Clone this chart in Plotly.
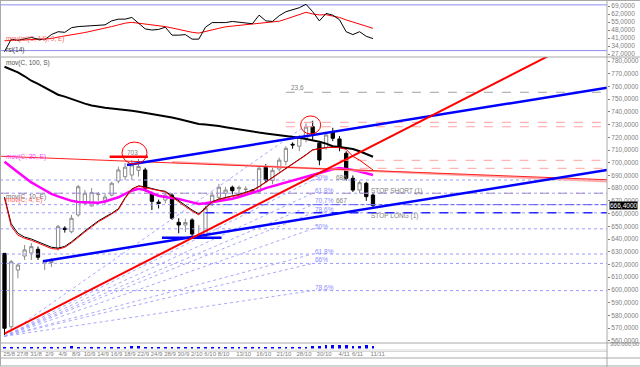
import plotly.graph_objects as go

# ---------------- data ----------------
idx = list(range(56))
date_labels = ["25/8", "27/8", "31/8", "2/9", "4/9", "8/9", "10/9", "14/9", "16/9", "18/9",
               "22/9", "24/9", "28/9", "30/9", "2/10", "6/10", "8/10", "13/10", "16/10",
               "21/10", "28/10", "30/10", "4/11", "6/11", "11/11"]
date_label_idx = [0, 2, 4, 6, 8, 10, 12, 14, 16, 18, 20, 22, 24, 26, 28, 30, 32, 35, 38,
                  41, 44, 47, 50, 52, 55]

opens = [628.7, 571.0, 615.6, 626.6, 629.0, 631.9, 620.9, 621.5, 632.7, 648.5,
         645.7, 658.9, 668.1, 666.0, 675.0, 670.5, 674.5, 685.6, 689.0, 690.3,
         694.0, 694.3, 675.3, 669.0, 670.6, 674.5, 653.1, 651.0, 655.0, 643.0,
         642.0, 669.5, 672.8, 676.0, 680.7, 679.5, 679.0, 678.5, 677.0, 697.0,
         686.0, 695.0, 701.0, 714.5, 713.0, 719.0, 728.3, 715.3, 712.0, 724.4,
         718.7, 707.4, 687.7, 678.5, 683.8, 674.6]
highs = [629.0, 623.5, 620.9, 635.3, 636.9, 634.0, 623.5, 625.0, 651.0, 650.0,
         658.9, 682.5, 678.5, 680.0, 677.0, 676.0, 685.0, 696.9, 699.8, 702.0,
         703.0, 696.0, 677.2, 671.0, 677.2, 676.0, 656.3, 656.0, 656.3, 651.0,
         666.0, 676.9, 683.3, 681.0, 682.0, 682.0, 681.5, 679.0, 697.0, 699.0,
         696.0, 704.0, 713.0, 716.0, 722.0, 731.0, 733.0, 717.0, 723.0, 727.5,
         721.0, 709.0, 690.0, 686.0, 685.0, 676.0]
lows = [564.5, 569.0, 609.1, 623.5, 623.5, 623.5, 615.6, 618.0, 631.0, 645.0,
        644.5, 657.5, 666.7, 665.5, 670.0, 667.0, 673.5, 683.8, 686.4, 686.4,
        689.0, 677.2, 662.8, 664.0, 668.0, 655.0, 644.5, 645.5, 641.8, 640.5,
        641.0, 666.0, 671.2, 672.0, 675.0, 674.5, 676.0, 677.5, 676.0, 684.0,
        683.0, 693.0, 698.0, 711.0, 709.0, 716.0, 718.0, 698.0, 710.0, 717.0,
        709.0, 686.0, 677.0, 676.0, 670.0, 665.0]
closes = [569.8, 622.1, 619.5, 631.4, 634.0, 625.6, 623.0, 623.2, 649.7, 647.5,
          656.3, 681.1, 676.0, 676.5, 675.3, 673.0, 683.8, 694.3, 696.5, 698.2,
          697.0, 680.0, 669.6, 668.0, 674.5, 656.3, 651.0, 653.0, 643.9, 643.5,
          664.2, 674.5, 680.7, 678.5, 678.0, 680.5, 679.2, 678.0, 695.6, 686.4,
          694.0, 702.0, 711.3, 714.0, 720.5, 728.0, 722.6, 702.1, 721.8, 719.2,
          712.1, 687.7, 678.5, 684.3, 673.3, 666.4]

sma100 = [775.5, 773.5, 771.0, 768.0, 764.5, 762.0, 759.0, 756.0, 753.5, 752.0,
          750.0, 748.0, 746.5, 745.0, 744.0, 743.3, 742.7, 742.2, 741.5, 740.8,
          740.1, 739.3, 738.3, 737.5, 736.5, 735.5, 734.4, 733.2, 731.8, 730.5,
          730.1, 729.7, 728.8, 727.9, 727.0, 726.0, 725.0, 724.3, 723.7, 723.0,
          722.4, 721.8, 721.1, 720.4, 719.7, 718.6, 717.6, 716.5, 715.0, 713.0,
          712.3, 711.6, 710.8, 709.0, 707.0, 704.7]
ema30 = [700.8, 697.0, 692.5, 688.5, 684.5, 681.5, 678.5, 675.5, 673.5, 671.5,
         670.0, 669.2, 668.8, 668.5, 668.5, 669.5, 671.0, 672.8, 675.5, 678.0,
         679.5, 678.5, 676.0, 674.0, 673.0, 672.3, 671.5, 670.2, 668.8, 667.5,
         668.2, 669.0, 669.8, 670.6, 671.7, 673.0, 674.5, 676.0, 678.0, 680.0,
         681.5, 683.0, 684.5, 686.0, 687.3, 689.0, 690.5, 692.0, 693.5, 694.8,
         695.8, 695.2, 694.3, 693.0, 691.7, 690.3]
ema4 = [672.2, 650.0, 643.0, 640.5, 639.0, 637.0, 635.0, 632.5, 632.0, 633.5,
        637.0, 641.5, 645.5, 649.5, 653.5, 656.5, 659.5, 663.0, 672.0, 679.0,
        681.5, 680.5, 679.0, 678.0, 677.0, 673.0, 669.0, 665.5, 662.0, 659.0,
        664.0, 669.0, 671.0, 672.5, 673.5, 674.5, 676.0, 678.0, 681.0, 684.5,
        688.0, 691.5, 695.0, 698.5, 702.0, 706.0, 710.0, 711.0, 711.8, 712.1,
        711.8, 710.5, 705.0, 702.0, 698.0, 694.3]
ema10 = [673.0, 652.0, 644.5, 641.5, 640.0, 638.0, 636.0, 633.5, 632.8, 634.2,
         637.8, 642.3, 646.3, 650.3, 654.2, 657.3, 660.2, 663.8, 672.5, 679.3,
         681.8, 681.0, 679.6, 678.4, 677.5, 673.8, 669.8, 666.3, 662.8, 659.8,
         664.5, 669.3, 671.4, 672.9, 673.9, 675.0, 676.5, 678.5, 681.3, 684.8,
         688.3, 691.8, 695.3, 698.8, 702.3, 706.3, 710.2, 711.3, 712.0, 712.3,
         712.0, 711.0]

rsi = [29.0, 40.0, 39.0, 40.0, 41.5, 40.0, 39.5, 44.0, 46.5, 46.0,
       50.0, 51.0, 51.5, 52.0, 52.0, 52.5, 56.0, 57.5, 57.5, 59.0,
       54.0, 49.0, 48.0, 48.5, 50.5, 43.5, 43.5, 44.0, 40.0, 40.0,
       50.5, 54.5, 54.5, 54.5, 55.5, 55.0, 54.0, 53.5, 61.0, 56.0,
       55.5, 60.5, 64.0, 65.5, 67.5, 70.5, 64.0, 56.0, 62.5, 61.0,
       57.0, 46.5, 44.0, 46.5, 42.5, 40.5]
rsi_avg = [38.6, 38.8, 39.0, 39.2, 39.4, 39.6, 39.8, 40.5, 41.8, 43.0,
           44.0, 44.8, 45.8, 47.0, 48.3, 49.4, 51.0, 52.5, 54.0, 54.7,
           54.0, 53.3, 52.6, 51.8, 51.0, 49.8, 48.5, 47.3, 46.0, 45.3,
           46.5, 48.0, 49.5, 50.8, 51.4, 52.0, 52.4, 53.0, 53.8, 54.5,
           55.0, 55.7, 57.5, 59.5, 61.5, 63.5, 62.0, 61.2, 61.4, 60.5,
           59.0, 56.8, 55.0, 53.0, 51.0, 49.5]
rsi_levels = [70, 30]
rsi_ticks = [69, 62, 55, 48, 41, 34, 27]

volume = [120000, 90000, 100000, 95000, 90000, 85000, 95000, 80000, 100000, 90000,
          160000, 90000, 95000, 100000, 90000, 100000, 95000, 110000, 120000, 130000,
          160000, 120000, 100000, 95000, 110000, 100000, 95000, 90000, 100000, 95000,
          110000, 100000, 95000, 90000, 100000, 95000, 90000, 100000, 110000, 95000,
          100000, 110000, 95000, 100000, 110000, 120000, 140000, 170000, 200000, 210000,
          190000, 180000, 160000, 170000, 200000, 150000]

price_ticks = list(range(560, 790, 10))

# drawn objects (bar index, price)
upper_channel = [(18.28, 698.2), (89.93, 759.0)]
lower_channel = [(5.75, 622.5), (89.93, 694.3)]
support_703 = [(23.5, 641.0), (32.4, 641.0)]
red_trend = [(0.0, 565.5), (81.0, 783.5)]
resistance = [(-0.67, 705.1), (89.93, 686.6)]
resistance_pink = [(25.0, 700.5), (89.93, 685.2)]
level_703 = [(15.7, 704.7), (21.4, 704.7)]
fan_origin = (0.0, 563.5)
fan_end_idx = 46
fan_targets = [733.0, 686.4, 676.0, 667.0, 660.6, 648.0, 628.2, 620.8, 599.4]
fib_levels = [686.4, 676.0, 667.0, 660.6, 648.0, 628.2, 620.8, 599.4]
stop_short = 676.0
stop_long = 660.6
level_667 = 667.0
salmon_levels = [(42, 731.8), (42, 728.3), (50, 701.9), (53, 695.6)]
ext_level = (42, 755.4)
circles = [(19.4, 707.6, 1.87, 8.65), (45.7, 729.7, 1.5, 7.1)]
last_price = 666.4

fib_texts = [("50%", 688.5), ("61,8%", 678.5), ("70,7%", 669.9), ("78,6%", 663.4),
             ("50%", 650.2), ("61,8%", 630.0), ("66%", 623.5), ("78,6%", 602.0)]
value_texts = [("686", 688.5), ("667", 669.9)]

# ---------------- layout geometry ----------------
W, H = 640, 367
R = 33
XR = [-0.672, 89.93]


def pf(px):
    return 1 - px / H


FONT = "Liberation Sans"
GREY = "#808080"

fig = go.Figure()

# RSI panel
for lv in rsi_levels:
    fig.add_trace(go.Scatter(x=XR, y=[lv, lv], mode="lines", yaxis="y",
                             line=dict(color="#8c8cf0", width=1), hoverinfo="skip"))
fig.add_trace(go.Scatter(x=idx, y=rsi_avg, mode="lines", yaxis="y",
                         line=dict(color="#ff0000", width=1), hoverinfo="skip"))
fig.add_trace(go.Scatter(x=idx, y=rsi, mode="lines", yaxis="y",
                         line=dict(color="#000000", width=1), hoverinfo="skip"))

# main panel: horizontal fib levels
for lv in fib_levels:
    fig.add_trace(go.Scatter(x=XR, y=[lv, lv], mode="lines", yaxis="y2",
                             line=dict(color="#9a9aff", width=1, dash="dot"), hoverinfo="skip"))
fig.add_trace(go.Scatter(x=XR, y=[stop_short, stop_short], mode="lines", yaxis="y2",
                         line=dict(color="#a890c8", width=1, dash="dash"), hoverinfo="skip"))
fig.add_trace(go.Scatter(x=[30, XR[1]], y=[level_667, level_667], mode="lines", yaxis="y2",
                         line=dict(color="#5a5aff", width=1, dash="dashdot"), hoverinfo="skip"))
fig.add_trace(go.Scatter(x=[30, XR[1]], y=[stop_long, stop_long], mode="lines", yaxis="y2",
                         line=dict(color="#2a2aff", width=1.6, dash="dash"), hoverinfo="skip"))

# fan lines
for t in fan_targets:
    fig.add_trace(go.Scatter(x=[fan_origin[0], fan_end_idx], y=[fan_origin[1], t], mode="lines",
                             yaxis="y2", line=dict(color="#a8a8ff", width=1, dash="dot"),
                             hoverinfo="skip"))

# salmon dashed levels and extension
for s, lv in salmon_levels:
    fig.add_trace(go.Scatter(x=[s, XR[1]], y=[lv, lv], mode="lines", yaxis="y2",
                             line=dict(color="#ffa0a0", width=1, dash="dash"), hoverinfo="skip"))
fig.add_trace(go.Scatter(x=[ext_level[0], XR[1]], y=[ext_level[1], ext_level[1]], mode="lines",
                         yaxis="y2", line=dict(color="#a0a0a0", width=1, dash="dash"),
                         hoverinfo="skip"))

# moving averages
fig.add_trace(go.Scatter(x=idx, y=sma100, mode="lines", yaxis="y2",
                         line=dict(color="#000000", width=2), hoverinfo="skip"))
fig.add_trace(go.Scatter(x=idx, y=ema30, mode="lines", yaxis="y2",
                         line=dict(color="#ff00ff", width=2.5), hoverinfo="skip"))

# resistance lines
fig.add_trace(go.Scatter(x=[p[0] for p in resistance_pink], y=[p[1] for p in resistance_pink],
                         mode="lines", yaxis="y2", line=dict(color="#ffaaaa", width=2),
                         hoverinfo="skip"))
fig.add_trace(go.Scatter(x=[p[0] for p in resistance], y=[p[1] for p in resistance],
                         mode="lines", yaxis="y2", line=dict(color="#ff2020", width=1),
                         hoverinfo="skip"))
fig.add_trace(go.Scatter(x=[p[0] for p in level_703], y=[p[1] for p in level_703],
                         mode="lines", yaxis="y2", line=dict(color="#ff0000", width=2.5),
                         hoverinfo="skip"))

# candles
fig.add_trace(go.Candlestick(x=idx, open=opens, high=highs, low=lows, close=closes,
                             xaxis="x", yaxis="y2", whiskerwidth=0,
                             increasing=dict(line=dict(color="#8a8a8a", width=1), fillcolor="#ffffff"),
                             decreasing=dict(line=dict(color="#000000", width=1), fillcolor="#000000"),
                             hoverinfo="skip", showlegend=False))

fig.add_trace(go.Scatter(x=idx[:len(ema10)], y=ema10, mode="lines", yaxis="y2",
                         line=dict(color="#000000", width=1), hoverinfo="skip"))
fig.add_trace(go.Scatter(x=idx, y=ema4, mode="lines", yaxis="y2",
                         line=dict(color="#ff0000", width=1), hoverinfo="skip"))

# trend lines
for seg, col, w in [(upper_channel, "#0000ff", 2.5), (lower_channel, "#0000ff", 2.5),
                    (support_703, "#0000ff", 2.5), (red_trend, "#ff0000", 2)]:
    fig.add_trace(go.Scatter(x=[p[0] for p in seg], y=[p[1] for p in seg], mode="lines",
                             yaxis="y2", line=dict(color=col, width=w), hoverinfo="skip"))

# volume
fig.add_trace(go.Bar(x=idx, y=volume, yaxis="y3", marker=dict(color="#0000ff", line=dict(width=0)),
                     width=0.4, hoverinfo="skip"))

shapes = []
for cx, cy, rx, ry in circles:
    shapes.append(dict(type="circle", xref="x", yref="y2", x0=cx - rx, x1=cx + rx,
                       y0=cy - ry, y1=cy + ry, line=dict(color="#ff0000", width=1)))
BORDER = "#a8a8a8"
for py in [0.5, 57, 343, 358, 366]:
    shapes.append(dict(type="line", xref="paper", yref="paper", x0=0, x1=W / (W - R),
                       y0=pf(py), y1=pf(py), line=dict(color=BORDER, width=1)))
for py in [350, 351.5]:
    shapes.append(dict(type="line", xref="paper", yref="paper", x0=0, x1=1,
                       y0=pf(py), y1=pf(py), line=dict(color="#d8d8d8", width=1)))
shapes.append(dict(type="line", xref="paper", yref="paper", x0=1, x1=1, y0=0, y1=1,
                   line=dict(color=BORDER, width=1)))
shapes.append(dict(type="line", xref="paper", yref="paper", x0=0.0008, x1=0.0008, y0=pf(366), y1=1,
                   line=dict(color=BORDER, width=1)))

ann = []
small = dict(family=FONT, size=6.5, color=GREY)
ann.append(dict(x=0.006, y=778.6, xref="paper", yref="y2", text="mov(C, 100, S)", showarrow=False,
                xanchor="left", font=dict(family=FONT, size=6.5, color="#505050")))
ann.append(dict(x=0.006, y=704.2, xref="paper", yref="y2", text="mov(C, 30, E)", showarrow=False,
                xanchor="left", font=dict(family=FONT, size=6.5, color="#ff40ff")))
ann.append(dict(x=0.006, y=673.4, xref="paper", yref="y2", text="mov(C, 10, E)", showarrow=False,
                xanchor="left", font=dict(family=FONT, size=6.5, color="#707070")))
ann.append(dict(x=0.006, y=670.6, xref="paper", yref="y2", text="mov(C, 4, E)", showarrow=False,
                xanchor="left", font=dict(family=FONT, size=6.5, color="#ff6060")))
ann.append(dict(x=0.006, y=40.5, xref="paper", yref="y", text="mov(rsi(C, 14), 9, E)", showarrow=False,
                xanchor="left", font=dict(family=FONT, size=6.5, color="#ff6060")))
ann.append(dict(x=0.006, y=30.5, xref="paper", yref="y", text="rsi(14)", showarrow=False,
                xanchor="left", font=dict(family=FONT, size=6.5, color="#404040")))
ann.append(dict(x=circles[0][0] - 0.3, y=708.4, xref="x", yref="y2", text="703", showarrow=False,
                font=small))
ann.append(dict(x=43.7, y=758.8, xref="x", yref="y2", text="23,6", showarrow=False, font=small))
for t, v in fib_texts:
    ann.append(dict(x=46.0, y=v, xref="x", yref="y2", text=t, showarrow=False, xanchor="left",
                    font=dict(family=FONT, size=6.5, color="#8c8cff")))
for t, v in value_texts:
    ann.append(dict(x=49.2, y=v, xref="x", yref="y2", text=t, showarrow=False, xanchor="left",
                    font=small))
ann.append(dict(x=54.4, y=678.0, xref="x", yref="y2", text="STOP SHORT (1)", showarrow=False,
                xanchor="left", font=small))
ann.append(dict(x=54.4, y=658.0, xref="x", yref="y2", text="STOP LONG (1)", showarrow=False,
                xanchor="left", font=small))
ann.append(dict(x=1 + 2 / (W - R), y=last_price, xref="paper", yref="y2",
                text="666,4000", showarrow=False, xanchor="left", bgcolor="#000000",
                borderpad=0, font=dict(family=FONT, size=6.5, color="#ffffff")))
ann.append(dict(x=1 + 0.5 / (W - R), y=pf(349), xref="paper", yref="paper",
                text="300.000,00", showarrow=False, xanchor="left",
                font=dict(family=FONT, size=5.8, color=GREY)))

fig.update_layout(
    width=W, height=H,
    margin=dict(l=0, r=R, t=0, b=0, autoexpand=False),
    paper_bgcolor="white", plot_bgcolor="white",
    showlegend=False,
    shapes=shapes, annotations=ann,
    xaxis=dict(domain=[0, 1], range=XR, anchor="y3", showgrid=False, zeroline=False,
               showline=False, ticks="", tickangle=0, tickvals=[i + 0.7 for i in date_label_idx],
               ticktext=date_labels, tickfont=dict(family=FONT, size=6, color=GREY),
               rangeslider=dict(visible=False), fixedrange=True),
    yaxis=dict(domain=[pf(57), 1], range=[24.4, 74.25], side="right", anchor="x",
               showgrid=False, zeroline=False, ticks="outside", ticklen=2, tickcolor=GREY,
               tickvals=rsi_ticks, ticktext=["%d,0000" % v for v in rsi_ticks],
               tickfont=dict(family=FONT, size=6.5, color=GREY)),
    yaxis2=dict(domain=[pf(343), pf(57)], range=[558.2, 783.15], side="right", anchor="x",
                showgrid=False, zeroline=False, ticks="outside", ticklen=2, tickcolor=GREY,
                tickvals=price_ticks, ticktext=["%d,0000" % v for v in price_ticks],
                tickfont=dict(family=FONT, size=6.5, color=GREY)),
    yaxis3=dict(domain=[pf(348.5), pf(343.5)], range=[0, 250000], side="right", anchor="x",
                showgrid=False, zeroline=False, showticklabels=False, ticks=""),
    bargap=0,
)

fig.write_html("out.html", config={"displayModeBar": False},
               post_script="document.body.style.margin='0px';document.body.style.overflow='hidden';")
